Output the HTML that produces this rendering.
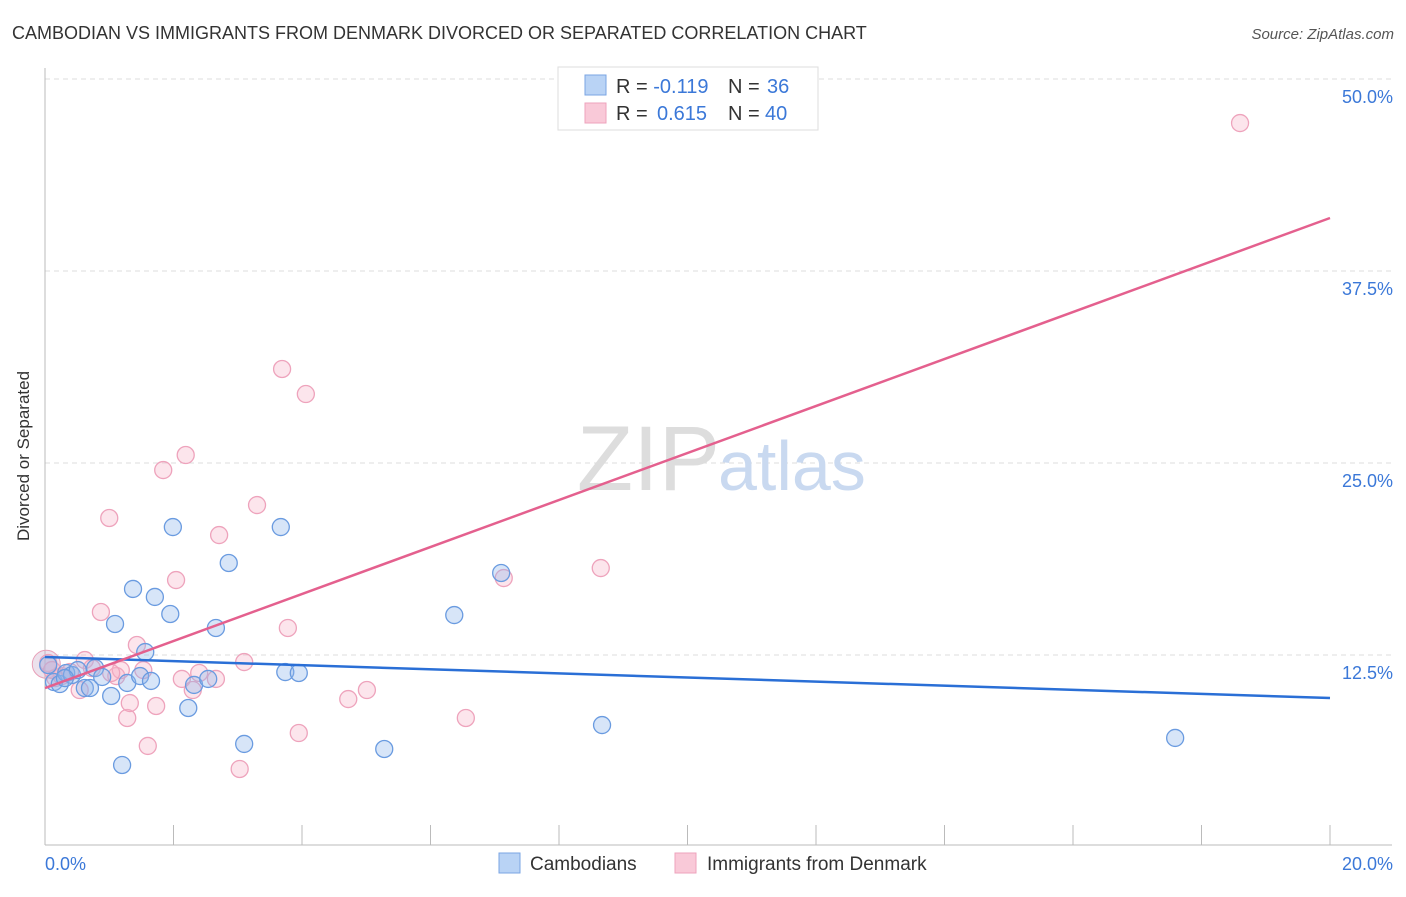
<!DOCTYPE html>
<html><head><meta charset="utf-8"><style>
body{margin:0;background:#fff;font-family:"Liberation Sans",sans-serif;}
svg text{font-family:"Liberation Sans",sans-serif;}
</style></head><body>
<svg id="chart" width="1406" height="892">
<text x="12" y="39" font-size="18" fill="#333">CAMBODIAN VS IMMIGRANTS FROM DENMARK DIVORCED OR SEPARATED CORRELATION CHART</text>
<text x="1394" y="39" font-size="15" fill="#555" font-style="italic" text-anchor="end">Source: ZipAtlas.com</text>
<text x="29" y="456" font-size="17" fill="#333" text-anchor="middle" transform="rotate(-90 29 456)">Divorced or Separated</text>
<g id="grid"></g>
<text x="720" y="490" font-size="92" fill="#ddd" text-anchor="end" font-family="Liberation Serif">ZIP</text>
<text x="718" y="490" font-size="70" fill="#c9d9f0">atlas</text>
<g id="axes"></g>
<g id="pts"></g>
<g id="lines"></g>
<g>
<rect x="558" y="67" width="260" height="63" fill="#fff" stroke="#ddd"/>
<rect x="585" y="75" width="21" height="20" fill="#b9d3f5" stroke="#7aa5e3"/>
<rect x="585" y="103" width="21" height="20" fill="#f9c9d8" stroke="#eea3bc"/>
<text x="616" y="93" font-size="20" fill="#333">R = <tspan fill="#3b78d8">-0.119</tspan><tspan x="728">N = </tspan><tspan x="767" fill="#3b78d8">36</tspan></text>
<text x="616" y="120" font-size="20" fill="#333">R = <tspan x="657" fill="#3b78d8">0.615</tspan><tspan x="728">N = </tspan><tspan x="765" fill="#3b78d8">40</tspan></text>
</g>
<g>
<rect x="499" y="853" width="21" height="20" fill="#b9d3f5" stroke="#7aa5e3"/>
<text x="530" y="870" font-size="19" fill="#333">Cambodians</text>
<text x="675" y="870" font-size="19" fill="#333"><tspan dx="32">Immigrants from Denmark</tspan></text>
<rect x="675" y="853" width="21" height="20" fill="#f9c9d8" stroke="#eea3bc"/>
</g>
</svg>
<script>
const yTicks=[12.5,25,37.5,50];
const yTickLabels=["12.5%","25.0%","37.5%","50.0%"];
const xLabels=["0.0%","20.0%"];
const blueX=[0.14,0.23,0.33,0.42,0.51,0.62,0.70,0.78,0.89,1.03,1.09,1.20,1.28,1.37,1.48,1.56,1.65,1.71,1.95,1.99,2.23,2.32,2.54,2.66,2.86,3.10,3.67,3.74,3.95,5.28,6.37,7.10,8.67,17.59,0.05,0.31];
const blueY=[10.74,10.61,11.33,11.2,11.52,10.35,10.35,11.65,11.07,9.83,14.52,5.34,10.68,16.8,11.13,12.69,10.81,16.28,15.17,20.83,9.05,10.55,10.94,14.26,18.49,6.71,20.83,11.39,11.33,6.38,15.1,17.84,7.94,7.1,11.85,11.0];
const pinkX=[0.05,0.16,0.26,0.39,0.54,0.62,0.73,0.87,1.00,1.11,1.18,1.28,1.32,1.43,1.53,1.60,1.73,1.84,2.04,2.13,2.19,2.30,2.40,2.66,2.71,3.03,3.10,3.30,3.69,3.78,3.95,4.06,4.72,5.01,6.55,7.14,8.65,18.60,0.11,1.03];
const pinkY=[11.98,11.0,11.13,11.39,10.22,12.17,11.65,15.3,21.42,11.13,11.52,8.4,9.37,13.15,11.52,6.58,9.18,24.54,17.38,10.94,25.52,10.22,11.33,10.94,20.31,5.08,12.04,22.26,31.12,14.26,7.42,29.49,9.63,10.22,8.4,17.51,18.16,47.13,11.52,11.33];
const blueTrend=[12.37,9.70];
const pinkTrend=[10.35,40.95];
const NS="http://www.w3.org/2000/svg";
const X=v=>45+v/20*1285;
const Y=v=>847-v/12.5*192;
function mk(p,t,a){const e=document.createElementNS(NS,t);for(const k in a)e.setAttribute(k,a[k]);document.getElementById(p).appendChild(e);return e;}
yTicks.forEach((t,i)=>{
 const l=mk('grid','line',{x1:45,x2:1392,y1:Y(t),y2:Y(t),stroke:'#ddd','stroke-dasharray':'5,4'});
 
 
 const tx=mk('grid','text',{x:1393,y:Y(t)+24,'font-size':18,fill:'#3b78d8','text-anchor':'end'});
 tx.textContent=yTickLabels[i];
 
 
});
mk('axes','line',{x1:45,x2:45,y1:68,y2:845,stroke:'#bbb'});
mk('axes','line',{x1:45,x2:1392,y1:845,y2:845,stroke:'#bbb'});
for(let i=0;i<=10;i++){const t=mk('axes','line',{x1:X(i*2),x2:X(i*2),y1:825,y2:845,stroke:'#bbb'});
 
 }
[[0,'start',45],[20,'end',1393]].forEach((d,i)=>{const t=mk('axes','text',{x:d[2],y:870,'font-size':18,fill:'#3b78d8','text-anchor':d[1]});t.textContent=xLabels[i];
 
 });
function dots(xs,ys,fill,stroke,name){xs.forEach((x,i)=>{const c=mk('pts','circle',{cx:X(x),cy:Y(ys[i]),r:8.5,fill:fill,stroke:stroke,'stroke-width':1.3});
 
 });}
mk('pts','circle',{cx:X(0.02),cy:Y(11.9),r:14,fill:'rgba(200,170,200,0.35)',stroke:'#e8a0b8'});
dots(pinkX,pinkY,'rgba(246,180,200,0.35)','#eea3bc','denmark-point');
dots(blueX,blueY,'rgba(140,180,235,0.35)','#6a9be0','cambodian-point');
const b=mk('lines','line',{x1:X(0),x2:X(20),y1:Y(blueTrend[0]),y2:Y(blueTrend[1]),stroke:'#2a6fd6','stroke-width':2.5});


const p=mk('lines','line',{x1:X(0),x2:X(20),y1:Y(pinkTrend[0]),y2:Y(pinkTrend[1]),stroke:'#e4608e','stroke-width':2.5});


</script>
</body></html>
